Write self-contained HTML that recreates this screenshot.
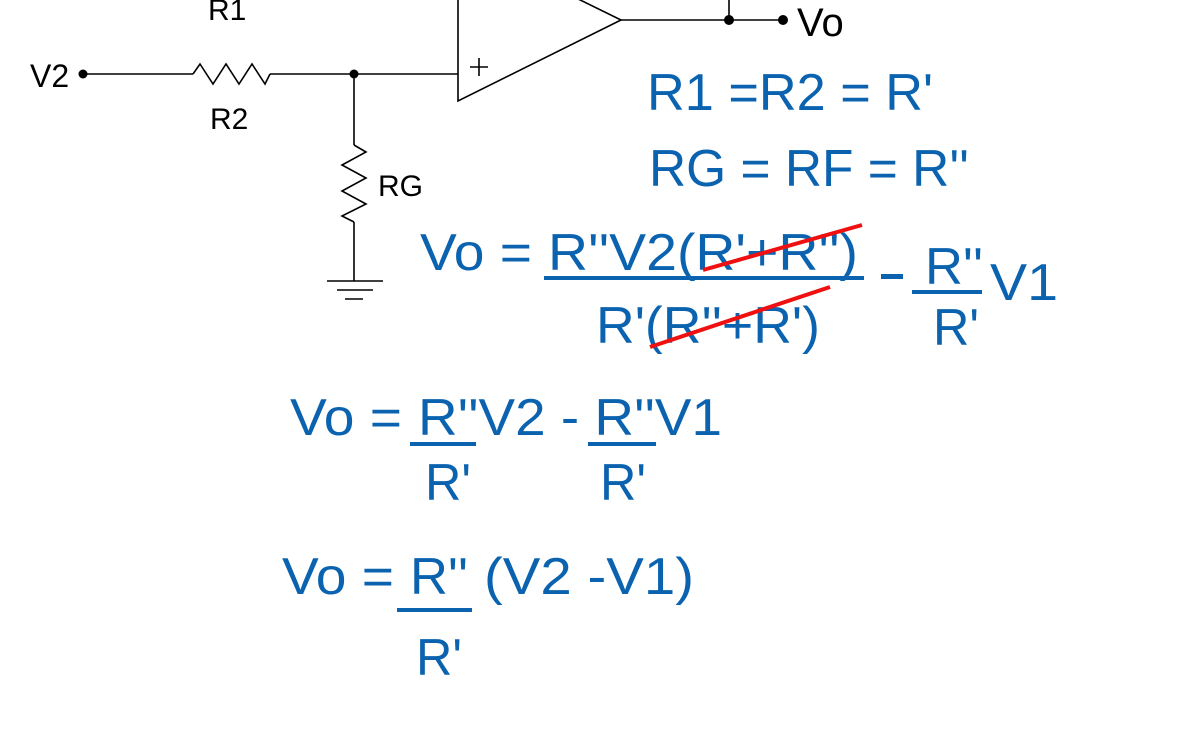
<!DOCTYPE html>
<html><head><meta charset="utf-8"><style>
html,body{margin:0;padding:0;background:#fff;}
svg{display:block;}
.b{fill:#0b63b0;font-family:"Liberation Sans",sans-serif;font-size:52px;}
.k{fill:#000;font-family:"Liberation Sans",sans-serif;}
</style></head><body>
<svg width="1178" height="743" viewBox="0 0 1178 743" xmlns="http://www.w3.org/2000/svg">
<g stroke="#000" stroke-width="1.6" fill="none">
  <line x1="83" y1="74" x2="193" y2="74"/>
  <polyline points="193,74 200,64 213,84 226,64 239,84 252,64 265,84 270,74"/>
  <line x1="270" y1="74" x2="458" y2="74"/>
  <line x1="354" y1="74" x2="354" y2="145"/>
  <polyline points="354,145 366,152 342,165 366,178 342,191 366,204 342,216 354,222"/>
  <line x1="354" y1="222" x2="354" y2="281"/>
  <line x1="327" y1="281" x2="383" y2="281"/>
  <line x1="337" y1="290" x2="373" y2="290"/>
  <line x1="345" y1="299" x2="363" y2="299"/>
  <polygon points="458,-60 458,101 621,20"/>
  <line x1="470" y1="67" x2="488" y2="67"/><line x1="479" y1="58" x2="479" y2="76"/>
  <line x1="621" y1="20" x2="783" y2="20"/>
  <line x1="729" y1="20" x2="729" y2="0"/>
</g>
<circle cx="83" cy="74" r="4.5" fill="#000"/>
<circle cx="354" cy="74" r="4.5" fill="#000"/>
<circle cx="729" cy="20" r="5" fill="#000"/>
<circle cx="783" cy="20" r="5" fill="#000"/>
<text class="k" x="208" y="20" font-size="30">R1</text>
<text class="k" x="30" y="87" font-size="32">V2</text>
<text class="k" x="210" y="129" font-size="30">R2</text>
<text class="k" x="378" y="196" font-size="30">RG</text>
<text class="k" x="797" y="36" font-size="40">Vo</text>

<text class="b" x="647" y="110" textLength="286" lengthAdjust="spacingAndGlyphs">R1 =R2 = R'</text>
<text class="b" x="649" y="186" textLength="320" lengthAdjust="spacingAndGlyphs">RG = RF = R''</text>

<g>
<text class="b" x="420" y="270" textLength="112" lengthAdjust="spacingAndGlyphs">Vo =</text>
<text class="b" x="548" y="270" textLength="310" lengthAdjust="spacingAndGlyphs">R''V2(R'+R'')</text>
<rect x="544" y="276" width="320" height="4" fill="#0b63b0"/>
<text class="b" x="596" y="343" textLength="224" lengthAdjust="spacingAndGlyphs">R'(R''+R')</text>
<line x1="703" y1="270" x2="862" y2="225" stroke="#f01010" stroke-width="4"/>
<line x1="650" y1="347" x2="830" y2="287" stroke="#f01010" stroke-width="4"/>
<rect x="881" y="274" width="22" height="5" fill="#0b63b0"/>
<text class="b" x="925" y="284" textLength="58" lengthAdjust="spacingAndGlyphs">R''</text>
<rect x="912" y="290" width="70" height="4" fill="#0b63b0"/>
<text class="b" x="933" y="345" textLength="46" lengthAdjust="spacingAndGlyphs">R'</text>
<text class="b" x="990" y="300" textLength="68" lengthAdjust="spacingAndGlyphs">V1</text>
</g>

<g>
<text class="b" x="290" y="435" textLength="112" lengthAdjust="spacingAndGlyphs">Vo =</text>
<text class="b" x="418" y="435" textLength="304" lengthAdjust="spacingAndGlyphs">R''V2 - R''V1</text>
<rect x="410" y="442" width="66" height="4" fill="#0b63b0"/>
<rect x="588" y="442" width="68" height="4" fill="#0b63b0"/>
<text class="b" x="425" y="500" textLength="46" lengthAdjust="spacingAndGlyphs">R'</text>
<text class="b" x="600" y="500" textLength="46" lengthAdjust="spacingAndGlyphs">R'</text>
</g>

<g>
<text class="b" x="282" y="594" textLength="112" lengthAdjust="spacingAndGlyphs">Vo =</text>
<text class="b" x="410" y="594" textLength="58" lengthAdjust="spacingAndGlyphs">R''</text>
<text class="b" x="484" y="594" textLength="210" lengthAdjust="spacingAndGlyphs">(V2 -V1)</text>
<rect x="397" y="608" width="75" height="4" fill="#0b63b0"/>
<text class="b" x="416" y="675" textLength="46" lengthAdjust="spacingAndGlyphs">R'</text>
</g>
</svg>
</body></html>
